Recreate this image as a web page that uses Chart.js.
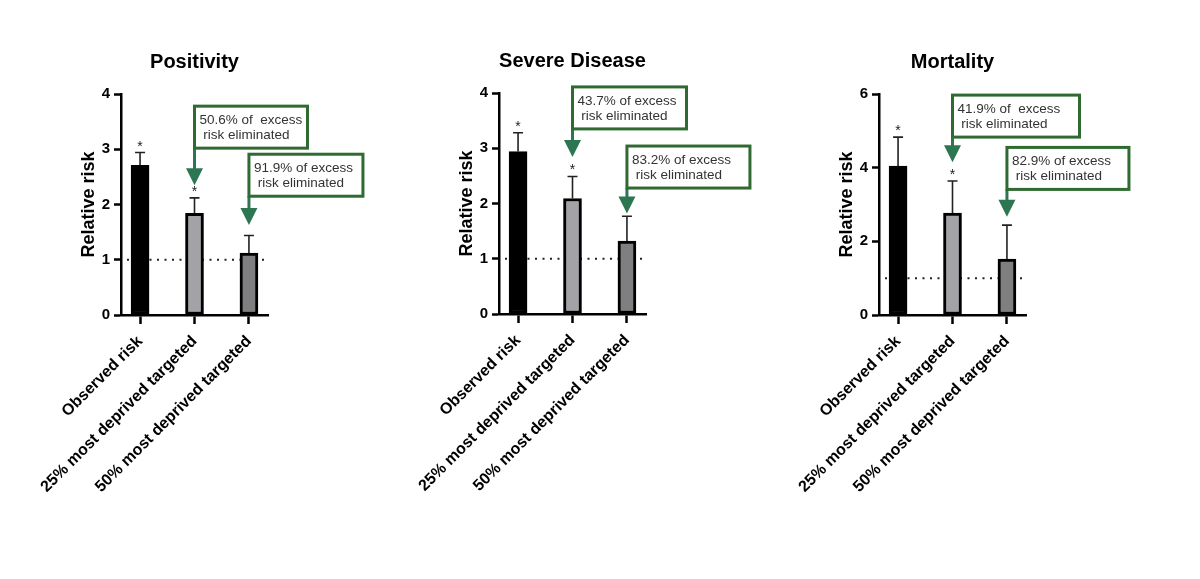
<!DOCTYPE html>
<html>
<head>
<meta charset="utf-8">
<script src="https://cdn.jsdelivr.net/npm/chart.js@4.4.1/dist/chart.umd.min.js"></script>
<style>
    html, body { margin: 0; padding: 0; background: #fff; }
    body { width: 1200px; height: 579px; position: relative; overflow: hidden; }
    canvas { position: absolute; top: 0; }
</style>
</head>
<body>
<canvas id="positivityChart" width="375" height="579" style="left:8px"></canvas>
<canvas id="severeChart" width="375" height="579" style="left:386px; top:-1px"></canvas>
<canvas id="mortalityChart" width="375" height="579" style="left:766px"></canvas>
<script>
const categories = ['Observed risk', '25% most deprived targeted', '50% most deprived targeted'];
const barColors = ['#000000', '#a3a3a7', '#7f7f81'];

// relative risk and top of the error bar
const positivityRisk = [2.71, 1.84, 1.12];
const positivityUpper = [2.94, 2.12, 1.44];
const severeRisk = [2.94, 2.09, 1.32];
const severeUpper = [3.28, 2.49, 1.77];
const mortalityRisk = [4.04, 2.77, 1.52];
const mortalityUpper = [4.83, 3.64, 2.44];

// bars marked with *
const significant = [true, true, false];

const positivityNotes = ['50.6% of  excess', '91.9% of excess'];
const severeNotes = ['43.7% of excess', '83.2% of excess'];
const mortalityNotes = ['41.9% of  excess', '82.9% of excess'];

const FONT = "'Liberation Sans', Arial, Helvetica, sans-serif";
const AXIS_W = 43;   // y scale width
const X_H = 264;     // x scale height
const BOX_H = 42;

// callouts: bar index they point at, box top and arrow tip in data units, box width in px
function callouts(notes, boxTops, tips, widths) {
    return notes.map((txt, i) => ({
        bar: i + 1, lines: [txt, ' risk eliminated'],
        top: boxTops[i], tip: tips[i], width: widths[i]
    }));
}

const panelPlugin = {
    id: 'panelExtras',
    beforeDatasetsDraw(chart) {
        const { ctx, chartArea, scales } = chart;
        const y = scales.y.getPixelForValue(1);
        ctx.save();
        ctx.strokeStyle = '#222';
        ctx.lineWidth = 2;
        ctx.setLineDash([2, 5.5]);
        ctx.beginPath();
        ctx.moveTo(chartArea.left + 6, y);
        ctx.lineTo(chartArea.right, y);
        ctx.stroke();
        ctx.restore();
    },
    afterDatasetsDraw(chart) {
        const { ctx, scales } = chart;
        const opts = chart.options.plugins.panelExtras;
        ctx.save();
        ctx.strokeStyle = '#222';
        ctx.fillStyle = '#222';
        ctx.lineWidth = 1.6;
        opts.upper.forEach((u, i) => {
            const x = scales.x.getPixelForValue(i);
            const yTop = scales.y.getPixelForValue(opts.risk[i]);
            const yUp = scales.y.getPixelForValue(u);
            ctx.beginPath();
            ctx.moveTo(x, yTop);
            ctx.lineTo(x, yUp);
            ctx.moveTo(x - 5, yUp);
            ctx.lineTo(x + 5, yUp);
            ctx.stroke();
            if (significant[i]) {
                ctx.font = '14px ' + FONT;
                ctx.textAlign = 'center';
                ctx.textBaseline = 'alphabetic';
                ctx.fillText('*', x, yUp - 2);
            }
        });
        ctx.restore();
    },
    afterDraw(chart) {
        const { ctx, scales } = chart;
        const opts = chart.options.plugins.panelExtras;
        ctx.save();
        opts.notes.forEach(n => {
            const x = scales.x.getPixelForValue(n.bar);
            const top = scales.y.getPixelForValue(n.top);
            const tip = scales.y.getPixelForValue(n.tip);
            const bottom = top + BOX_H;

            // arrow
            ctx.strokeStyle = '#2c7752';
            ctx.fillStyle = '#2c7752';
            ctx.lineWidth = 3;
            ctx.beginPath();
            ctx.moveTo(x, bottom);
            ctx.lineTo(x, tip - 15);
            ctx.stroke();
            ctx.beginPath();
            ctx.moveTo(x - 8.5, tip - 17);
            ctx.lineTo(x + 8.5, tip - 17);
            ctx.lineTo(x, tip);
            ctx.closePath();
            ctx.fill();

            // box
            ctx.fillStyle = '#fff';
            ctx.fillRect(x, top, n.width, BOX_H);
            ctx.strokeStyle = '#2f6a31';
            ctx.lineWidth = 3;
            ctx.strokeRect(x, top, n.width, BOX_H);

            ctx.fillStyle = '#333';
            ctx.font = '13.5px ' + FONT;
            ctx.textAlign = 'left';
            ctx.textBaseline = 'middle';
            ctx.fillText(n.lines[0], x + 5, top + 14);
            ctx.fillText(n.lines[1], x + 5, top + 29);
        });
        ctx.restore();
    }
};

function makePanel(canvasId, title, risk, upper, yMax, yStep, notes) {
    return new Chart(document.getElementById(canvasId), {
        type: 'bar',
        data: {
            datasets: [{
                data: risk.map((v, i) => ({ x: i, y: v })),
                backgroundColor: barColors,
                borderColor: '#000',
                borderWidth: 3,
                borderSkipped: false,
                barThickness: 18
            }]
        },
        options: {
            responsive: false,
            animation: false,
            layout: { padding: { left: 70, right: 115, top: 50, bottom: 0 } },
            plugins: {
                legend: { display: false },
                tooltip: { enabled: false },
                title: {
                    display: true,
                    text: title,
                    fullSize: false,
                    color: '#000',
                    font: { family: FONT, size: 20, weight: 'bold', lineHeight: 1.2 },
                    padding: { top: 0, bottom: 20 }
                },
                panelExtras: { risk: risk, upper: upper, notes: notes }
            },
            scales: {
                x: {
                    type: 'linear',
                    min: -0.35,
                    max: 2.35,
                    offset: false,
                    afterBuildTicks: s => { s.ticks = categories.map((_, i) => ({ value: i })); },
                    afterFit: s => { s.height = X_H; s.paddingLeft = 0; s.paddingRight = 0; },
                    ticks: {
                        autoSkip: false,
                        minRotation: 45,
                        maxRotation: 45,
                        padding: 8,
                        color: '#000',
                        font: { family: FONT, size: 16, weight: 'bold' },
                        callback: v => categories[v]
                    },
                    grid: { drawOnChartArea: false, offset: false, tickLength: 9, tickWidth: 2.5, color: '#000' },
                    border: { color: '#000', width: 2.5 }
                },
                y: {
                    min: 0,
                    max: yMax,
                    afterFit: s => { s.width = AXIS_W; },
                    ticks: {
                        stepSize: yStep,
                        padding: 4,
                        color: '#000',
                        font: { family: FONT, size: 15, weight: 'bold' }
                    },
                    grid: { drawOnChartArea: false, tickLength: 7, tickWidth: 2.5, color: '#000' },
                    border: { color: '#000', width: 2.5 },
                    title: {
                        display: true,
                        text: 'Relative risk',
                        color: '#000',
                        padding: 0,
                        font: { family: FONT, size: 18, weight: 'bold', lineHeight: 1.2 }
                    }
                }
            }
        },
        plugins: [panelPlugin]
    });
}

makePanel('positivityChart', 'Positivity', positivityRisk, positivityUpper, 4, 1,
    callouts(positivityNotes, [3.78, 2.91], [2.35, 1.63], [113, 114]));
makePanel('severeChart', 'Severe Disease', severeRisk, severeUpper, 4, 1,
    callouts(severeNotes, [4.11, 3.04], [2.84, 1.82], [114, 123]));
makePanel('mortalityChart', 'Mortality', mortalityRisk, mortalityUpper, 6, 2,
    callouts(mortalityNotes, [5.97, 4.55], [4.15, 2.67], [127, 122]));
</script>
</body>
</html>
